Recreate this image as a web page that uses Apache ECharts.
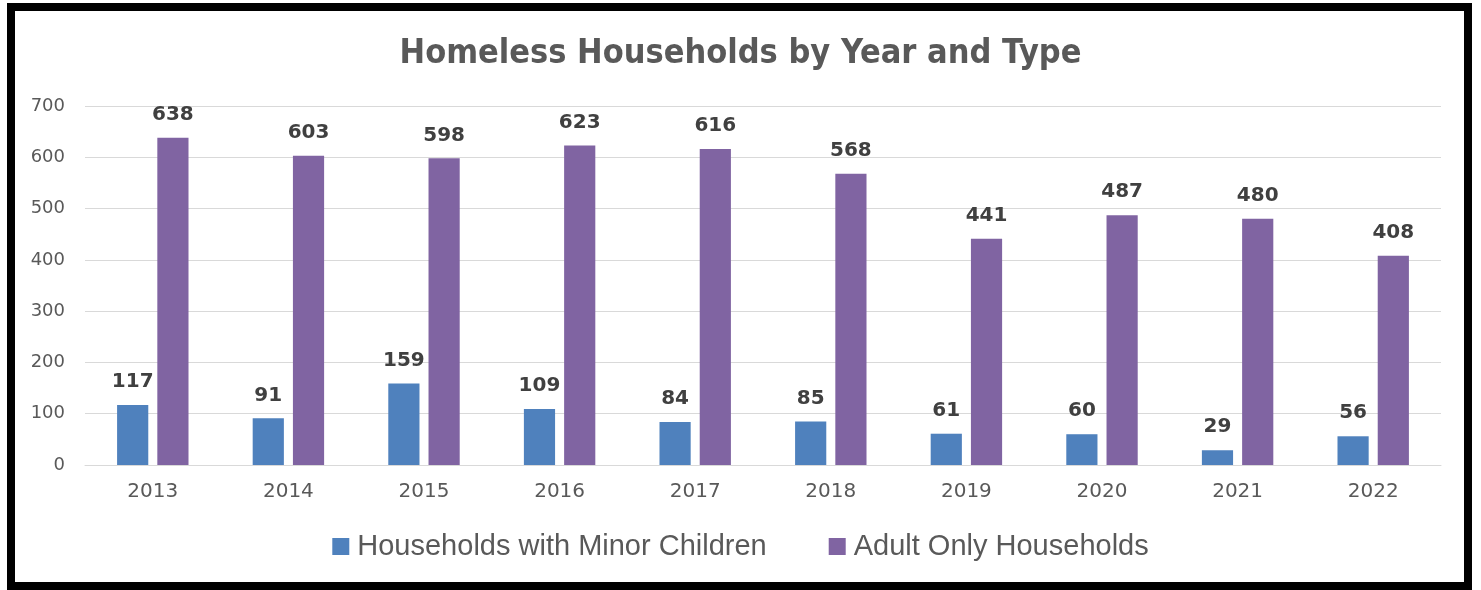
<!DOCTYPE html>
<html><head><meta charset="utf-8">
<script src="https://cdn.jsdelivr.net/npm/echarts@6/dist/echarts.min.js"></script>
<style>
html,body{margin:0;padding:0;background:#fff;}
#chart{position:absolute;left:0;top:0;width:1481px;height:590px;}
#frame{position:absolute;left:7px;top:3px;width:1449px;height:571px;border:8px solid #000;pointer-events:none;}
</style></head>
<body>
<div id="chart"></div>
<div id="frame"></div>
<script>
const years = ['2013','2014','2015','2016','2017','2018','2019','2020','2021','2022'];
const minorChildren = [117, 91, 159, 109, 84, 85, 61, 60, 29, 56];
const adultOnly = [638, 603, 598, 623, 616, 568, 441, 487, 480, 408];
const seriesNames = ['Households with Minor Children', 'Adult Only Households'];

const chart = echarts.init(document.getElementById('chart'));
const labelStyle = {show:true, position:'top', distance:13, color:'#404040', fontSize:20, fontWeight:'bold', fontFamily:'DejaVu Sans'};
chart.setOption({
  animation:false,
  title:{text:'Homeless Households by Year and Type', left:'center', top:32,
    textStyle:{fontFamily:"'DejaVu Sans Condensed', 'DejaVu Sans'", fontWeight:'bold', fontSize:34, color:'#595959'}},
  legend:{bottom:24, left:'center', itemWidth:17, itemHeight:17, itemGap:62, icon:'rect',
    textStyle:{fontFamily:'Liberation Sans', fontSize:29, color:'#595959', padding:[0,0,0,3]}},
  grid:{left:85, right:40, top:106, bottom:125},
  xAxis:{type:'category', data:years, axisTick:{show:false},
    axisLine:{lineStyle:{color:'#d9d9d9', width:1}},
    axisLabel:{color:'#595959', fontSize:20, fontFamily:'DejaVu Sans', margin:17}},
  yAxis:{type:'value', min:0, max:700, interval:100,
    axisLabel:{color:'#595959', fontSize:18, fontFamily:'DejaVu Sans', margin:20},
    splitLine:{lineStyle:{color:'#d9d9d9', width:1}}},
  series:[
    {name:seriesNames[0], type:'bar', data:minorChildren, barWidth:'23%', barGap:'29%',
      itemStyle:{color:'#4F81BD'}, label:labelStyle},
    {name:seriesNames[1], type:'bar', data:adultOnly, barWidth:'23%',
      itemStyle:{color:'#8064A2'}, label:labelStyle}
  ]
});
</script>
</body></html>
